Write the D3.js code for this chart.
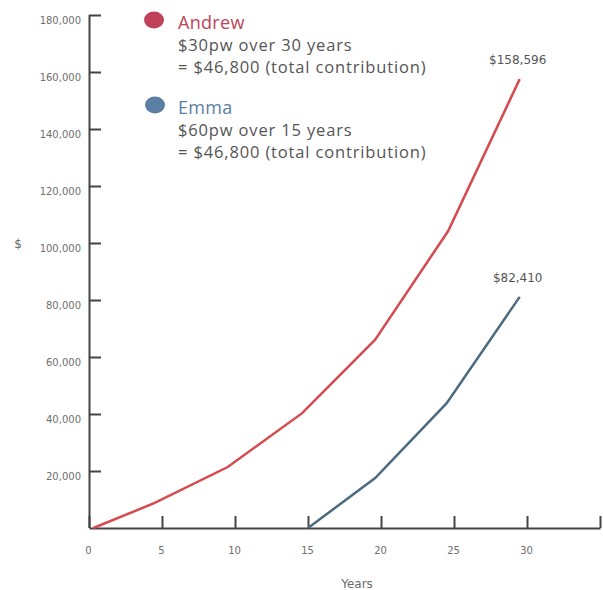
<!DOCTYPE html>
<html>
<head>
<meta charset="utf-8">
<script src="https://cdn.jsdelivr.net/npm/d3@7"></script>
<style>
  html, body { margin: 0; padding: 0; background: #fff; }
  svg { display: block; }
</style>
</head>
<body>
<svg id="chart" width="603" height="590"></svg>
<script>
// ---- data ----
const andrewYears  = [0.3, 4.5, 9.5, 14.6, 19.6, 24.6, 29.5];
const andrewValues = [0, 8800, 21400, 40300, 66100, 104200, 157500];
const emmaYears    = [15, 19.6, 24.5, 29.5];
const emmaValues   = [0, 17500, 43800, 81100];
const endLabels    = ["$158,596", "$82,410"];
const yTickValues  = [20000, 40000, 60000, 80000, 100000, 120000, 140000, 160000, 180000];
const xTickValues  = [0, 5, 10, 15, 20, 25, 30, 35];
const xTickLabels  = ["0", "5", "10", "15", "20", "25", "30", ""];
const legendNames  = ["Andrew", "Emma"];
const legendLine1  = ["$30pw over 30 years", "$60pw over 15 years"];
const legendLine2  = ["= $46,800 (total contribution)", "= $46,800 (total contribution)"];

// ---- layout ----
const svg = d3.select("#chart");
const x = d3.scaleLinear().domain([0, 35]).range([89, 600]);
const y = d3.scaleLinear().domain([0, 180000]).range([528, 15]);
const axisColor = "#444";
const andrewLine = "#d64b4f", emmaLine = "#4d6b80";
const andrewLegend = "#bf4258", emmaLegend = "#5b7ea4";

// y axis
const yAxis = svg.append("g")
  .attr("transform", `translate(${x(0)},0)`)
  .call(d3.axisLeft(y).tickValues(yTickValues).tickSizeInner(-12).tickSizeOuter(0).tickPadding(8)
        .tickFormat(d3.format(",")));
yAxis.select(".domain").attr("d", `M0.5,${y(0)}V${y(180000)}`);
yAxis.selectAll("path, line").attr("stroke", axisColor).attr("stroke-width", 2);
yAxis.selectAll("text").attr("fill", "#6f6f6f").attr("font-family", "DejaVu Sans")
  .attr("font-size", 10).attr("dy", "0.85em");

// x axis
const xAxis = svg.append("g")
  .attr("transform", `translate(0,${y(0)})`)
  .call(d3.axisBottom(x).tickValues(xTickValues).tickSizeInner(-12).tickSizeOuter(0).tickPadding(19)
        .tickFormat((d, i) => xTickLabels[i]));
xAxis.selectAll("path, line").attr("stroke", axisColor).attr("stroke-width", 2);
xAxis.selectAll("text").attr("fill", "#6f6f6f").attr("font-family", "DejaVu Sans")
  .attr("font-size", 10).attr("dx", -1);

// axis titles
svg.append("text").attr("x", 18).attr("y", 248).attr("text-anchor", "middle")
  .attr("font-family", "DejaVu Sans").attr("font-size", 12).attr("fill", "#666").text("$");
svg.append("text").attr("x", 357).attr("y", 588).attr("text-anchor", "middle")
  .attr("font-family", "DejaVu Sans").attr("font-size", 12).attr("fill", "#6a6a6a").text("Years");

// lines
const line = d3.line().x(d => x(d[0])).y(d => y(d[1]));
svg.append("path").datum(andrewYears.map((d, i) => [d, andrewValues[i]]))
  .attr("d", line).attr("fill", "none").attr("stroke", andrewLine).attr("stroke-width", 2.5);
svg.append("path").datum(emmaYears.map((d, i) => [d, emmaValues[i]]))
  .attr("d", line).attr("fill", "none").attr("stroke", emmaLine).attr("stroke-width", 2.5);

// end labels
const ends = [[andrewYears[andrewYears.length - 1], andrewValues[andrewValues.length - 1]],
              [emmaYears[emmaYears.length - 1], emmaValues[emmaValues.length - 1]]];
svg.selectAll(".endlabel").data(ends).join("text")
  .attr("x", d => x(d[0]) - 2).attr("y", d => y(d[1]) - 15)
  .attr("text-anchor", "middle").attr("font-family", "DejaVu Sans").attr("font-size", 12)
  .attr("fill", "#555").text((d, i) => endLabels[i]);

// legend
const legendTop = [20, 105];
const legendCol = [andrewLegend, emmaLegend];
legendNames.forEach((name, i) => {
  const cy = legendTop[i];
  svg.append("ellipse").attr("cx", 154 + i).attr("cy", cy).attr("rx", 10).attr("ry", 8.5)
    .attr("fill", legendCol[i]);
  svg.append("text").attr("x", 178).attr("y", cy + 8.5)
    .attr("font-family", "Open Sans").attr("font-size", 18).attr("letter-spacing", 0.3)
    .attr("fill", legendCol[i]).text(name);
  svg.append("text").attr("x", 178).attr("y", cy + 30.5)
    .attr("font-family", "Open Sans").attr("font-size", 16.5).attr("letter-spacing", 0.85)
    .attr("fill", "#555").text(legendLine1[i]);
  svg.append("text").attr("x", 178).attr("y", cy + 53)
    .attr("font-family", "Open Sans").attr("font-size", 16.5).attr("letter-spacing", 0.85)
    .attr("fill", "#555").text(legendLine2[i]);
});
</script>
</body>
</html>
